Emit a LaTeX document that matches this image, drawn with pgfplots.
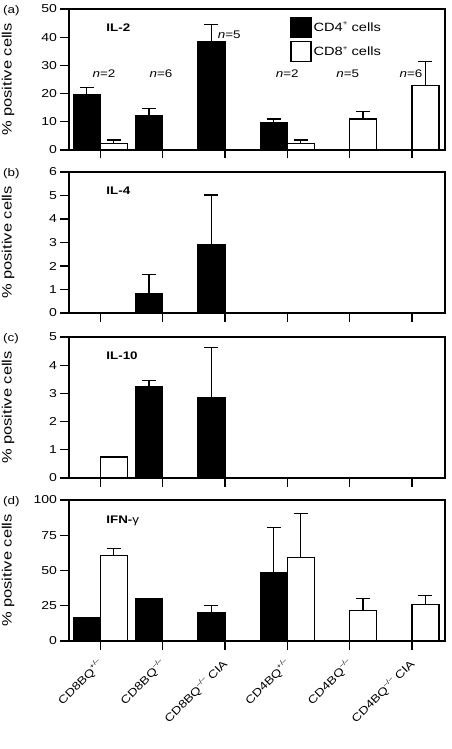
\documentclass[border=0pt]{standalone}
\usepackage{fontspec}
\setmainfont{Liberation Sans}[FakeStretch=1.22]
\usepackage{pgfplots}
\pgfplotsset{compat=1.18}
\newcommand{\fs}{\fontsize{11}{13}\selectfont}
\newcommand{\supx}[1]{\raisebox{0.45em}{\fontsize{6.5}{7}\selectfont #1}}
\pgfplotsset{
  panel/.style={
    scale only axis, width=376pt, height=141pt,
    anchor=south west,
    xmin=-0.5, xmax=5.53, ymin=0,
    axis line style={line width=1.6pt},
    xtick={0,1,2,3,4,5}, xticklabels={},
    xtick pos=bottom, ytick pos=left,
    tick align=outside, major tick length=8.5pt,
    tick style={line width=1.3pt, black},
    ybar, bar width=27pt,
    /pgf/number format/assume math mode=true,
    tick label style={font=\fontsize{11.5}{13}\selectfont},
    ylabel={\% positive cells},
    every axis y label/.style={at={(axis description cs:-0.162,0.5)}, rotate=90, anchor=center, font=\fontsize{13.5}{16}\selectfont},
    clip=false,
  },
  blk/.style={fill=black, draw=black, line width=1.3pt, bar shift=-13.5pt,
    legend image code/.code={\draw[fill=black, draw=black, line width=1.3pt] (0pt,-10pt) rectangle (20pt,10pt);},
    error bars/.cd, y dir=plus, y explicit,
    error bar style={line width=1.3pt, black},
    error mark options={rotate=90, line width=1.3pt, mark size=7pt, black}},
  wht/.style={fill=white, draw=black, line width=1.3pt, bar shift=13.5pt,
    legend image code/.code={\draw[fill=white, draw=black, line width=1.3pt] (0pt,-10pt) rectangle (20pt,10pt);},
    error bars/.cd, y dir=plus, y explicit,
    error bar style={line width=1.3pt, black},
    error mark options={rotate=90, line width=1.3pt, mark size=7pt, black}},
}
\begin{document}
\begin{tikzpicture}
\useasboundingbox (0pt,0pt) rectangle (452pt,-749pt);
% (a) IL-2
\begin{axis}[panel, at={(69pt,-150pt)}, ymax=50, ytick={0,10,20,30,40,50},
  legend style={at={(rel axis cs:0.58,0.96)}, anchor=north west, draw=none, fill=none,
    font=\fontsize{12}{14}\selectfont, row sep=3pt,
    /tikz/every even column/.append style={column sep=4pt}}]
\addplot[blk] coordinates {(0,19.5) +- (0,2.6) (1,12.3) +- (0,2.5) (2,38.4) +- (0,6.2) (3,9.7) +- (0,1.3)};
\addlegendentry{CD4\supx{+} cells}
\addplot[wht] coordinates {(0,2.4) +- (0,1.1) (3,2.4) +- (0,1.1) (4,11.0) +- (0,2.6) (5,22.9) +- (0,8.6)};
\addlegendentry{CD8\supx{+} cells}
\node[anchor=west, font=\bfseries\fs] at (rel axis cs:0.09,0.87) {IL-2};
\node[font=\fs] at (axis cs:0.06,27) {\textit{n}=2};
\node[font=\fs] at (axis cs:0.975,27) {\textit{n}=6};
\node[font=\fs] at (axis cs:2.07,40.8) {\textit{n}=5};
\node[font=\fs] at (axis cs:3.0,27) {\textit{n}=2};
\node[font=\fs] at (axis cs:3.97,27) {\textit{n}=5};
\node[font=\fs] at (axis cs:4.985,27) {\textit{n}=6};
\node[anchor=north west, inner sep=0pt, font=\fs] at ([xshift=-66pt,yshift=4pt]rel axis cs:0,1) {(a)};
\end{axis}
% (b) IL-4
\begin{axis}[panel, at={(69pt,-313pt)}, ymax=6, ytick={0,1,2,3,4,5,6}]
\addplot[blk] coordinates {(1,0.83) +- (0,0.82) (2,2.9) +- (0,2.12)};
\node[anchor=west, font=\bfseries\fs] at (rel axis cs:0.09,0.866) {IL-4};
\node[anchor=north west, inner sep=0pt, font=\fs] at ([xshift=-66pt,yshift=4pt]rel axis cs:0,1) {(b)};
\end{axis}
% (c) IL-10
\begin{axis}[panel, at={(69pt,-478pt)}, ymax=5, ytick={0,1,2,3,4,5}]
\addplot[blk] coordinates {(1,3.24) +- (0,0.23) (2,2.86) +- (0,1.78)};
\addplot[wht] coordinates {(0,0.74) +- (0,0)};
\node[anchor=west, font=\bfseries\fs] at (rel axis cs:0.09,0.87) {IL-10};
\node[anchor=north west, inner sep=0pt, font=\fs] at ([xshift=-66pt,yshift=4pt]rel axis cs:0,1) {(c)};
\end{axis}
% (d) IFN-gamma
\begin{axis}[panel, at={(69pt,-641pt)}, ymax=100, ytick={0,25,50,75,100},
  xticklabels={CD8BQ\supx{+/--}, CD8BQ\supx{--/--}, CD8BQ\supx{--/--} CIA,
    CD4BQ\supx{+/--}, CD4BQ\supx{--/--}, CD4BQ\supx{--/--} CIA},
  xticklabel style={xshift=3pt, yshift=-10pt, rotate=45, anchor=east, font=\fs}]
\addplot[blk] coordinates {(0,16.6) +- (0,0) (1,30.2) +- (0,0) (2,20.4) +- (0,5.0) (3,48.7) +- (0,31.8)};
\addplot[wht] coordinates {(0,60.6) +- (0,5.0) (3,59.1) +- (0,31.2) (4,21.6) +- (0,8.3) (5,25.9) +- (0,6.4)};
\node[anchor=west, font=\fs] at (rel axis cs:0.09,0.85) {\textbf{IFN-}γ};
\node[anchor=north west, inner sep=0pt, font=\fs] at ([xshift=-66pt,yshift=4pt]rel axis cs:0,1) {(d)};
\end{axis}
\end{tikzpicture}
\end{document}
